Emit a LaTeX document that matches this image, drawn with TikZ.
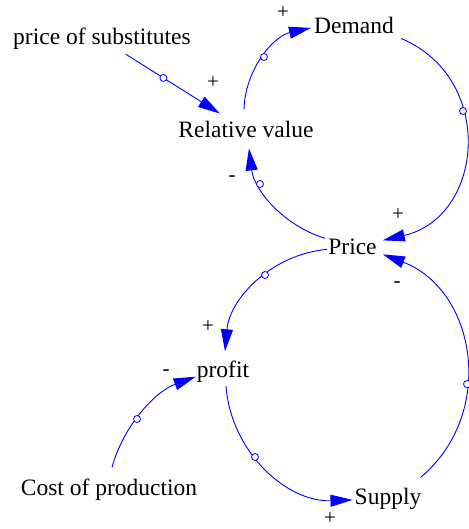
\documentclass[tikz,border=0pt]{standalone}
\usepackage{fontspec}
\setmainfont{Liberation Serif}
\usetikzlibrary{arrows.meta}
\begin{document}
\begin{tikzpicture}[x=1pt,y=-1pt,
  lbl/.style={font=\fontsize{23.5}{28}\selectfont, text=black, inner xsep=3pt, inner ysep=4pt, anchor=base},
  sgn/.style={font=\fontsize{21}{25}\selectfont, text=black, inner sep=0pt},
  link/.style={draw=blue, line width=0.9pt, -{Triangle[length=22pt,width=12pt]}},
  hnd/.style={circle, draw=blue, fill=white, line width=0.8pt, inner sep=0pt, minimum size=7pt}]
\useasboundingbox (0,0) rectangle (468,529);

% variables
\node[lbl] (psub)   at (102,45)  {price of substitutes};
\node[lbl] (dem)    at (354,34)  {Demand};
\node[lbl, inner ysep=8pt] (rv) at (246,138) {Relative value};
\node[lbl] (price)  at (352.5,254) {Price};
\node[lbl] (profit) at (223,377) {profit};
\node[lbl] (cost)   at (109,495) {Cost of production};
\node[lbl] (supply) at (388,504) {Supply};

% links
\draw[link] (psub) -- node[hnd,pos=0.4] (m1) {} (rv);
\draw[link] ([shift={(-2pt,4pt)}]rv.north) .. controls (244.9,70.1) and (273,36.3) .. ([yshift=-2pt]dem.west);
\draw[link] ([xshift=4pt]dem.south east) .. controls (496.3,78.4) and (483.9,217.1) .. ([shift={(3pt,6pt)}]price.east);
\draw[link] ([yshift=8pt]price.west) .. controls (284.0,225.9) and (254.1,190.4) .. ([shift={(3pt,-2pt)}]rv.south);
\draw[link] ([shift={(2pt,-3pt)}]price.west) .. controls (272.7,254.2) and (229.8,297.6) .. ([shift={(2pt,5pt)}]profit.north);
\draw[link] ([xshift=3pt]profit.south) .. controls (231.2,452.6) and (287.2,502.4) .. ([shift={(1pt,-1.5pt)}]supply.west);
\draw[link] ([shift={(-4pt,6pt)}]supply.north east) .. controls (496.8,413.5) and (476.5,290.3) .. ([shift={(3pt,-8pt)}]price.east);
\draw[link] ([shift={(3pt,7pt)}]cost.north) .. controls (123.5,425.8) and (154.8,391.7) .. ([shift={(2pt,-5.5pt)}]profit.west);

% handles
\node[hnd] (m2) at (264,57) {};
\node[hnd] (m3) at (463,111) {};
\node[hnd] (m4) at (260,184) {};
\node[hnd] (m5) at (265,275) {};
\node[hnd] (m6) at (255,457) {};
\node[hnd] (m7) at (467,384) {};
\node[hnd] (m8) at (137,419) {};

% polarities
\node[sgn] (s1) at (283,13)  {+};
\node[sgn] (s2) at (213,83)  {+};
\node[sgn] (s3) at (232,179) {-};
\node[sgn] (s4) at (398,215) {+};
\node[sgn] (s5) at (397,285) {-};
\node[sgn] (s6) at (208,327) {+};
\node[sgn] (s7) at (166,373) {-};
\node[sgn] (s8) at (330,519) {+};
\end{tikzpicture}
\end{document}
